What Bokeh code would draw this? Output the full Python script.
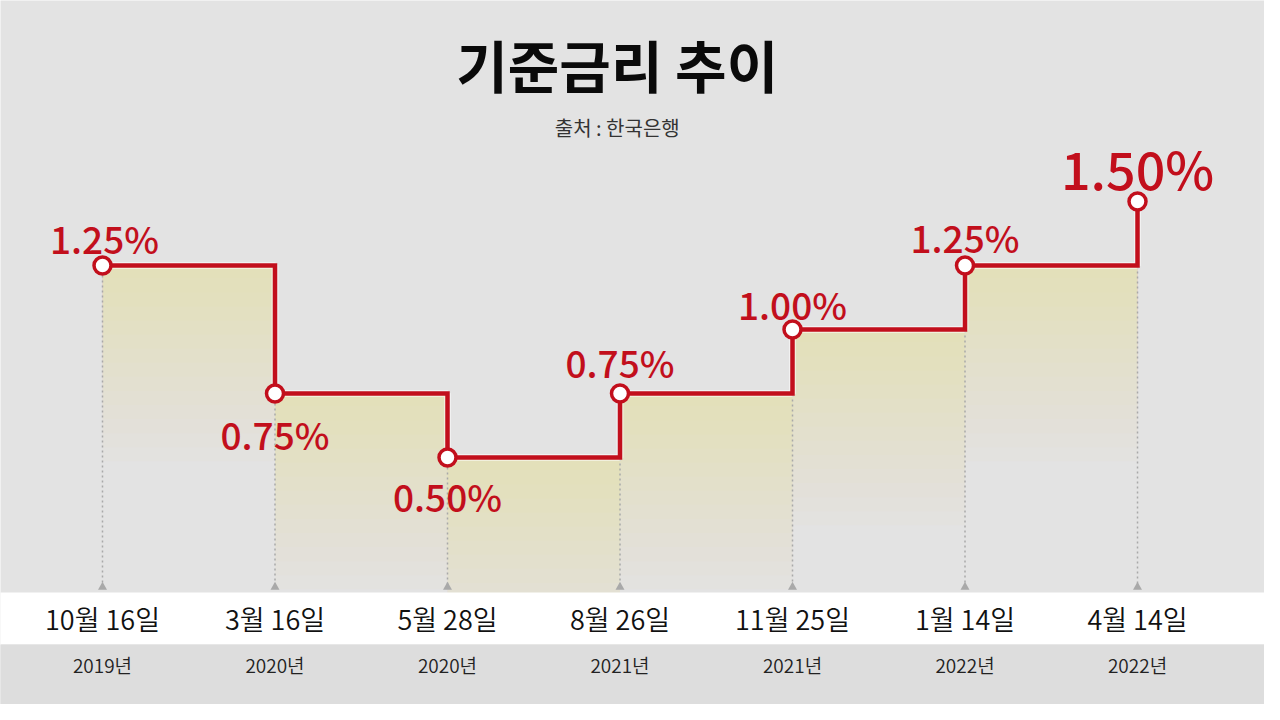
import numpy as np
from bokeh.plotting import figure
from bokeh.models import ColumnDataSource, Range1d
from bokeh.core.properties import value
from bokeh.embed import file_html
from bokeh.resources import INLINE

# ---- data ----
title_text = "기준금리 추이"
source_text = "출처 : 한국은행"
dates = ["10월 16일", "3월 16일", "5월 28일", "8월 26일", "11월 25일", "1월 14일", "4월 14일"]
years = ["2019년", "2020년", "2020년", "2021년", "2021년", "2022년", "2022년"]
rates = [1.25, 0.75, 0.50, 0.75, 1.00, 1.25, 1.50]

# ---- styling ----
RED = "#c20f1c"
BG = "#e3e3e3"
KR = value("Noto Sans CJK KR")
KR_MED = value("'Noto Sans CJK KR Medium', 'Noto Sans CJK KR'")
KR_LIGHT = value("'Noto Sans CJK KR DemiLight', 'Noto Sans CJK KR'")

idx = np.arange(len(rates))
r = np.array(rates)
labels = [f"{v:.2f}%" for v in rates]
lab_dx = [2, 0, 0, 0, 0, 0, 0]
lab_dy = [-28, 40, 38, -32, -26, -29, -34]
lab_size = ["37px"] * 6 + ["52px"]

W, H = 1264, 704
p = figure(width=W, height=H, output_backend="svg", toolbar_location=None,
           x_range=Range1d(-0.5913, 6.7362), y_range=Range1d(-0.4648, 2.2852),
           min_border=0, background_fill_color=BG, border_fill_color=BG)
p.axis.visible = False
p.grid.visible = False
p.outline_line_color = None

# soft glow under the steps (drawn first, bands cover anything below)
for k in range(14):
    depth = 0.05 + 0.055 * k
    p.varea_step(x=idx, y1=r - depth, y2=r, step_mode="after",
                 fill_color="#ffe274", fill_alpha=0.032)

# bottom bands
p.quad(left=[-1], right=[8], top=[-0.0273], bottom=[-0.2305], fill_color="white", line_color=None)
p.quad(left=[-1], right=[8], top=[-0.2305], bottom=[-0.6], fill_color="#dddddd", line_color=None)

# dotted drop lines + triangles
p.segment(x0=idx, y0=r, x1=idx, y1=np.zeros_like(r), line_color="#a9a9a9",
          line_width=1.5, line_dash="2 3")
p.scatter(x=idx, y=np.full_like(r, -0.006), marker="triangle", size=9,
          fill_color="#a9a9a9", line_color=None)

# step line
p.step(x=idx, y=r, mode="after", line_color="white", line_width=7, line_alpha=0.5)
p.step(x=idx, y=r, mode="after", line_color=RED, line_width=4.5, line_join="miter")
p.scatter(x=idx, y=r, marker="circle", size=17, fill_color="white",
          line_color=RED, line_width=3.5)

# value labels
src = ColumnDataSource(dict(x=idx, y=r, t=labels, dx=lab_dx, dy=lab_dy, fs=lab_size))
p.text(x="x", y="y", text="t", x_offset="dx", y_offset="dy", text_font_size="fs",
       text_align="center", text_baseline="middle", text_color=RED,
       text_font=KR_MED, source=src)

# date / year labels
p.text(x=idx, y=np.full_like(r, -0.13), text=dates, text_align="center",
       text_baseline="middle", text_color="#111111", text_font_size="27px", text_font=KR_LIGHT)
p.text(x=idx, y=np.full_like(r, -0.31), text=years, text_align="center",
       text_baseline="middle", text_color="#222222", text_font_size="19px", text_font=KR_LIGHT)

# title / subtitle
tx = 2.984
p.text(x=[tx], y=[2.04], text=[title_text], text_align="center", text_baseline="middle",
       text_color="#0a0a0a", text_font_size="56px", text_font=KR, text_font_style="bold")
p.text(x=[tx], y=[1.79], text=[source_text], text_align="center", text_baseline="middle",
       text_color="#333333", text_font_size="20px", text_font=KR)

open("out.html", "w").write(file_html(p, INLINE))
